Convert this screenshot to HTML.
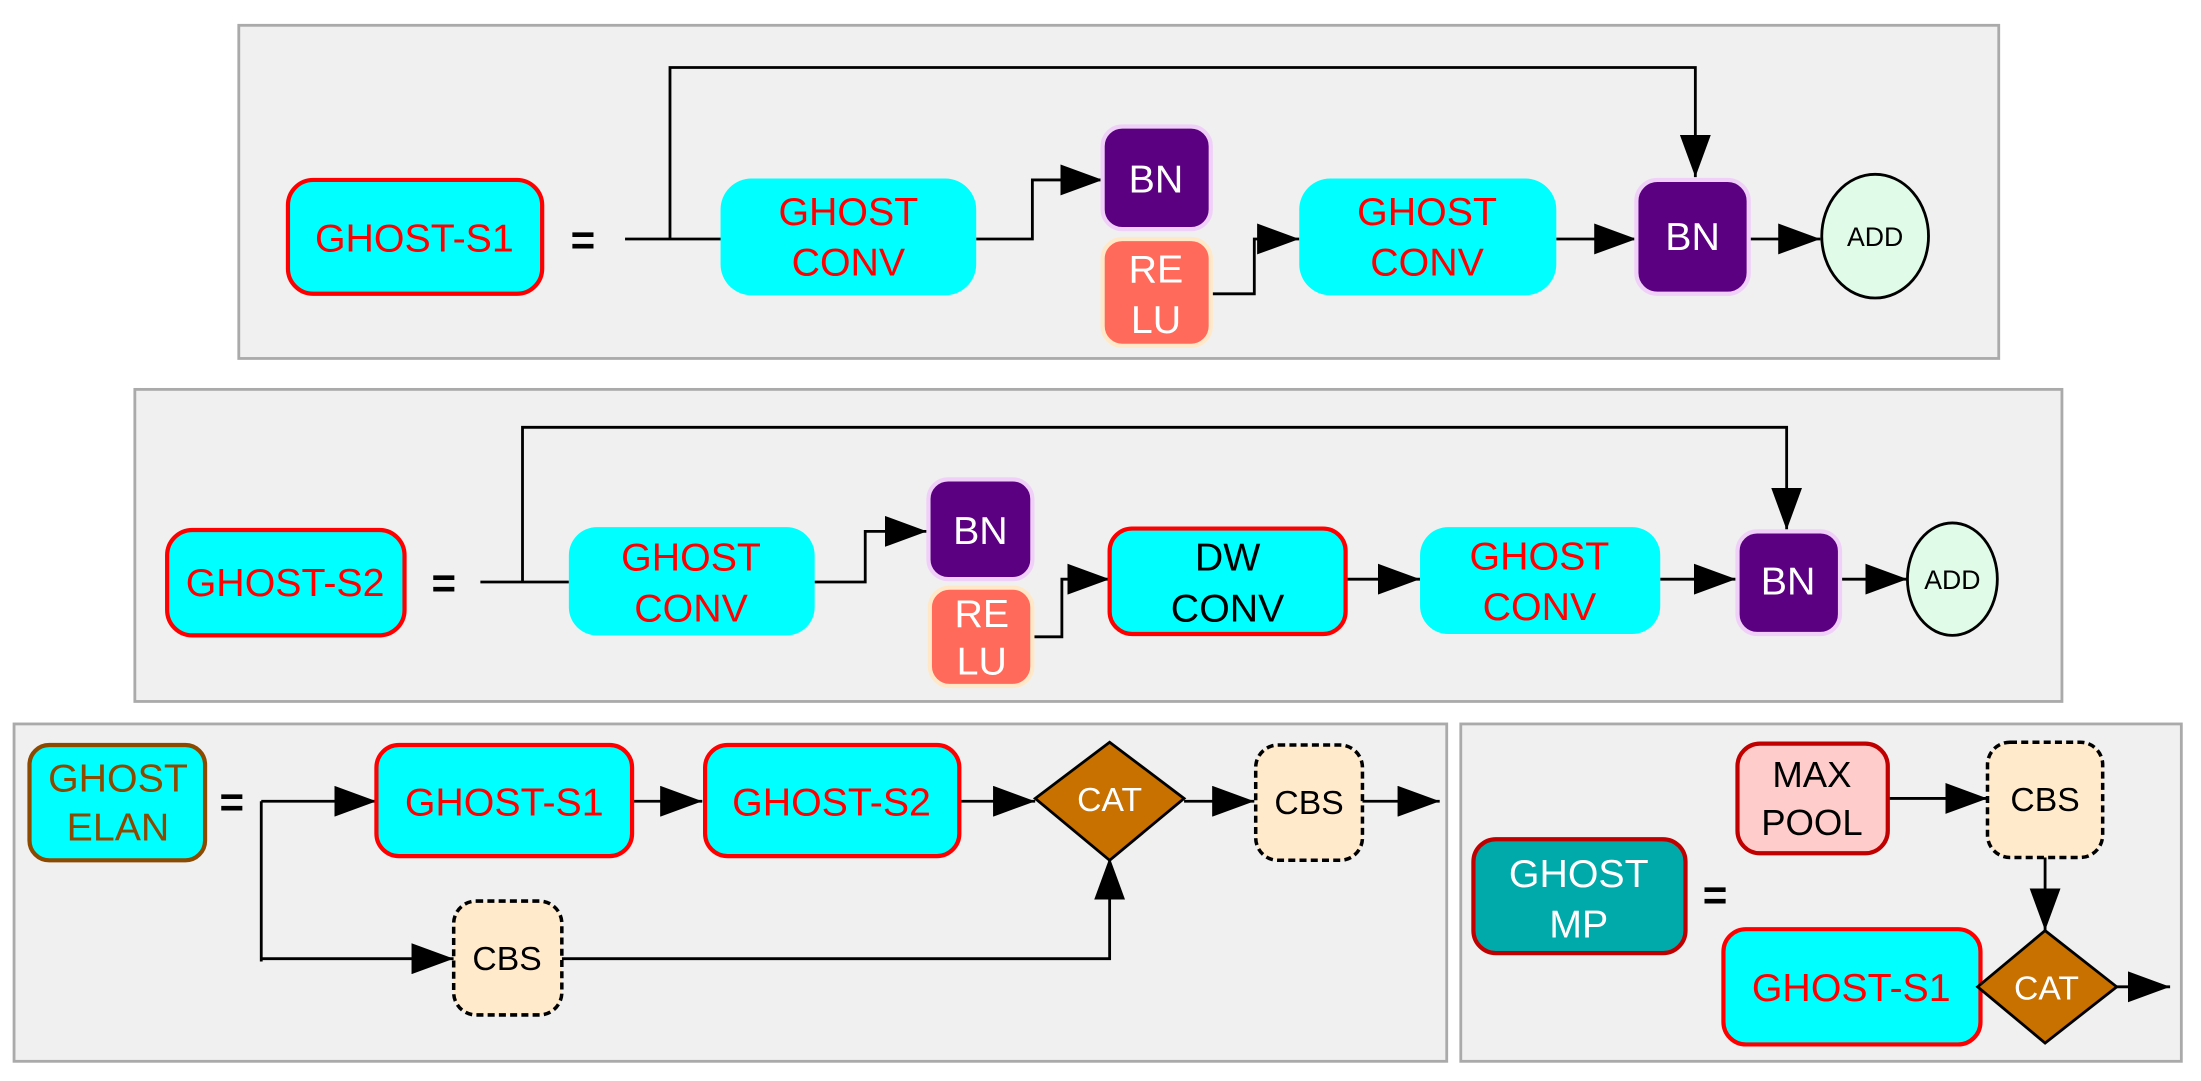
<!DOCTYPE html>
<html><head><meta charset="utf-8"><style>html,body{margin:0;padding:0;background:#fff}svg{display:block}</style></head><body>
<svg width="2201" height="1081" viewBox="0 0 1567 769" preserveAspectRatio="none" xmlns="http://www.w3.org/2000/svg" font-family="Liberation Sans, DejaVu Sans, sans-serif" text-anchor="middle">
<defs>
<marker id="b" viewBox="0 0 10 10" refX="10" refY="5" markerWidth="30" markerHeight="22" markerUnits="userSpaceOnUse" orient="auto" preserveAspectRatio="none"><path d="M0,0L10,5L0,10z" fill="#000"/></marker></defs>
<g stroke="#aaa" stroke-width="2" fill="#f0f0f0">
<rect x="170" y="18" width="1253" height="237"/>
<rect x="96" y="277" width="1372" height="222"/>
<rect x="10" y="515" width="1020" height="240"/>
<rect x="1040" y="515" width="513" height="240"/>
</g>
<g fill="none" stroke="#000" stroke-width="2">
<path d="M445,170H515M477,170V48H1207V126" marker-end="url(#b)"/>
<path d="M695,170H735V128H785" marker-end="url(#b)"/>
<path d="M862,209H893V170H925" marker-end="url(#b)"/>
<path d="M1108,170H1165" marker-end="url(#b)"/>
<path d="M1245,170H1296" marker-end="url(#b)"/>
<path d="M342,414H405M372,414V304H1272V377" marker-end="url(#b)"/>
<path d="M580,414H616V378H660" marker-end="url(#b)"/>
<path d="M735,453H756V412H790" marker-end="url(#b)"/>
<path d="M958,412H1011" marker-end="url(#b)"/>
<path d="M1182,412H1236" marker-end="url(#b)"/>
<path d="M1310,412H1358" marker-end="url(#b)"/>
<path d="M186,570H268" marker-end="url(#b)"/>
<path d="M186,570V684"/>
<path d="M186,682H323" marker-end="url(#b)"/>
<path d="M450,570H500" marker-end="url(#b)"/>
<path d="M683,570H737" marker-end="url(#b)"/>
<path d="M843,570H893" marker-end="url(#b)"/>
<path d="M970,570H1025" marker-end="url(#b)"/>
<path d="M400,682H790V610" marker-end="url(#b)"/>
<path d="M1344,568H1415" marker-end="url(#b)"/>
<path d="M1456,610V662" marker-end="url(#b)"/>
<path d="M1507,702H1545" marker-end="url(#b)"/>
</g>
<g font-size="28">
<rect x="205" y="128" width="181" height="81" rx="18" fill="#00ffff" stroke="#f00" stroke-width="3"/>
<text x="295" y="179" fill="#f00">GHOST-S1</text>
<text x="415" y="181" font-size="30" font-weight="bold">=</text>
<rect x="513" y="127" width="182" height="83" rx="22" fill="#00ffff"/>
<text x="604" y="160" fill="#f00">GHOST</text><text x="604" y="196" fill="#f00">CONV</text>
<rect x="785" y="90" width="77" height="73" rx="14" fill="#5b0080" stroke="#f0d0f8" stroke-width="3"/>
<text x="823" y="137" fill="#fff">BN</text>
<rect x="785" y="170" width="77" height="76" rx="14" fill="#ff6a5a" stroke="#ffe8c8" stroke-width="3"/>
<text x="823" y="201" fill="#fff">RE</text><text x="823" y="237" fill="#fff">LU</text>
<rect x="925" y="127" width="183" height="83" rx="22" fill="#00ffff"/>
<text x="1016" y="160" fill="#f00">GHOST</text><text x="1016" y="196" fill="#f00">CONV</text>
<rect x="1165" y="128" width="80" height="81" rx="15" fill="#5b0080" stroke="#f0d0f8" stroke-width="3"/>
<text x="1205" y="178" fill="#fff">BN</text>
<ellipse cx="1335" cy="168" rx="38" ry="44" fill="#e0fbe8" stroke="#000" stroke-width="2"/>
<text x="1335" y="175" font-size="19">ADD</text>
<rect x="119" y="377" width="169" height="75" rx="18" fill="#00ffff" stroke="#f00" stroke-width="3"/>
<text x="203" y="424" fill="#f00">GHOST-S2</text>
<text x="316" y="425" font-size="30" font-weight="bold">=</text>
<rect x="405" y="375" width="175" height="77" rx="20" fill="#00ffff"/>
<text x="492" y="406" fill="#f00">GHOST</text><text x="492" y="442" fill="#f00">CONV</text>
<rect x="661" y="341" width="74" height="71" rx="14" fill="#5b0080" stroke="#f0d0f8" stroke-width="3"/>
<text x="698" y="387" fill="#fff">BN</text>
<rect x="662" y="418" width="73" height="70" rx="14" fill="#ff6a5a" stroke="#ffe8c8" stroke-width="3"/>
<text x="699" y="446" fill="#fff">RE</text><text x="699" y="480" fill="#fff">LU</text>
<rect x="790" y="376" width="168" height="75" rx="16" fill="#00ffff" stroke="#f00" stroke-width="3"/>
<text x="874" y="406" fill="#000">DW</text><text x="874" y="442" fill="#000">CONV</text>
<rect x="1011" y="375" width="171" height="76" rx="20" fill="#00ffff"/>
<text x="1096" y="405" fill="#f00">GHOST</text><text x="1096" y="441" fill="#f00">CONV</text>
<rect x="1237" y="378" width="73" height="73" rx="14" fill="#5b0080" stroke="#f0d0f8" stroke-width="3"/>
<text x="1273" y="423" fill="#fff">BN</text>
<ellipse cx="1390" cy="412" rx="32" ry="40" fill="#e0fbe8" stroke="#000" stroke-width="2"/>
<text x="1390" y="419" font-size="19">ADD</text>
<rect x="21" y="530" width="125" height="82" rx="14" fill="#00ffff" stroke="#8b4a00" stroke-width="3"/>
<text x="84" y="563" fill="#8b4a00">GHOST</text><text x="84" y="598" fill="#8b4a00">ELAN</text>
<text x="165" y="581" font-size="30" font-weight="bold">=</text>
<rect x="268" y="530" width="182" height="79" rx="16" fill="#00ffff" stroke="#f00" stroke-width="3"/>
<text x="359" y="580" fill="#f00">GHOST-S1</text>
<rect x="502" y="530" width="181" height="79" rx="16" fill="#00ffff" stroke="#f00" stroke-width="3"/>
<text x="592" y="580" fill="#f00">GHOST-S2</text>
<path d="M737,568L790,528L843,568L790,612Z" fill="#c87000" stroke="#000" stroke-width="2"/>
<text x="790" y="577" fill="#fff" font-size="24">CAT</text>
<rect x="894" y="530" width="76" height="82" rx="16" fill="#ffeacc" stroke="#000" stroke-width="2.5" stroke-dasharray="5,3"/>
<text x="932" y="579" font-size="24">CBS</text>
<rect x="323" y="641" width="77" height="81" rx="16" fill="#ffeacc" stroke="#000" stroke-width="2.5" stroke-dasharray="5,3"/>
<text x="361" y="690" font-size="24">CBS</text>
<rect x="1237" y="529" width="107" height="78" rx="16" fill="#ffcccc" stroke="#c00000" stroke-width="3"/>
<text x="1290" y="560" font-size="26">MAX</text><text x="1290" y="594" font-size="26">POOL</text>
<rect x="1415" y="528" width="82" height="82" rx="16" fill="#ffeacc" stroke="#000" stroke-width="2.5" stroke-dasharray="5,3"/>
<text x="1456" y="577" font-size="24">CBS</text>
<rect x="1049" y="597" width="151" height="81" rx="16" fill="#00aaaa" stroke="#c00000" stroke-width="3"/>
<text x="1124" y="631" fill="#fff">GHOST</text><text x="1124" y="667" fill="#fff">MP</text>
<text x="1221" y="647" font-size="30" font-weight="bold">=</text>
<rect x="1227" y="661" width="183" height="82" rx="16" fill="#00ffff" stroke="#f00" stroke-width="3"/>
<text x="1318" y="712" fill="#f00">GHOST-S1</text>
<path d="M1408,702L1456,662L1507,702L1456,742Z" fill="#c87000" stroke="#000" stroke-width="2"/>
<text x="1457" y="711" fill="#fff" font-size="24">CAT</text>
</g>
</svg>
</body></html>
